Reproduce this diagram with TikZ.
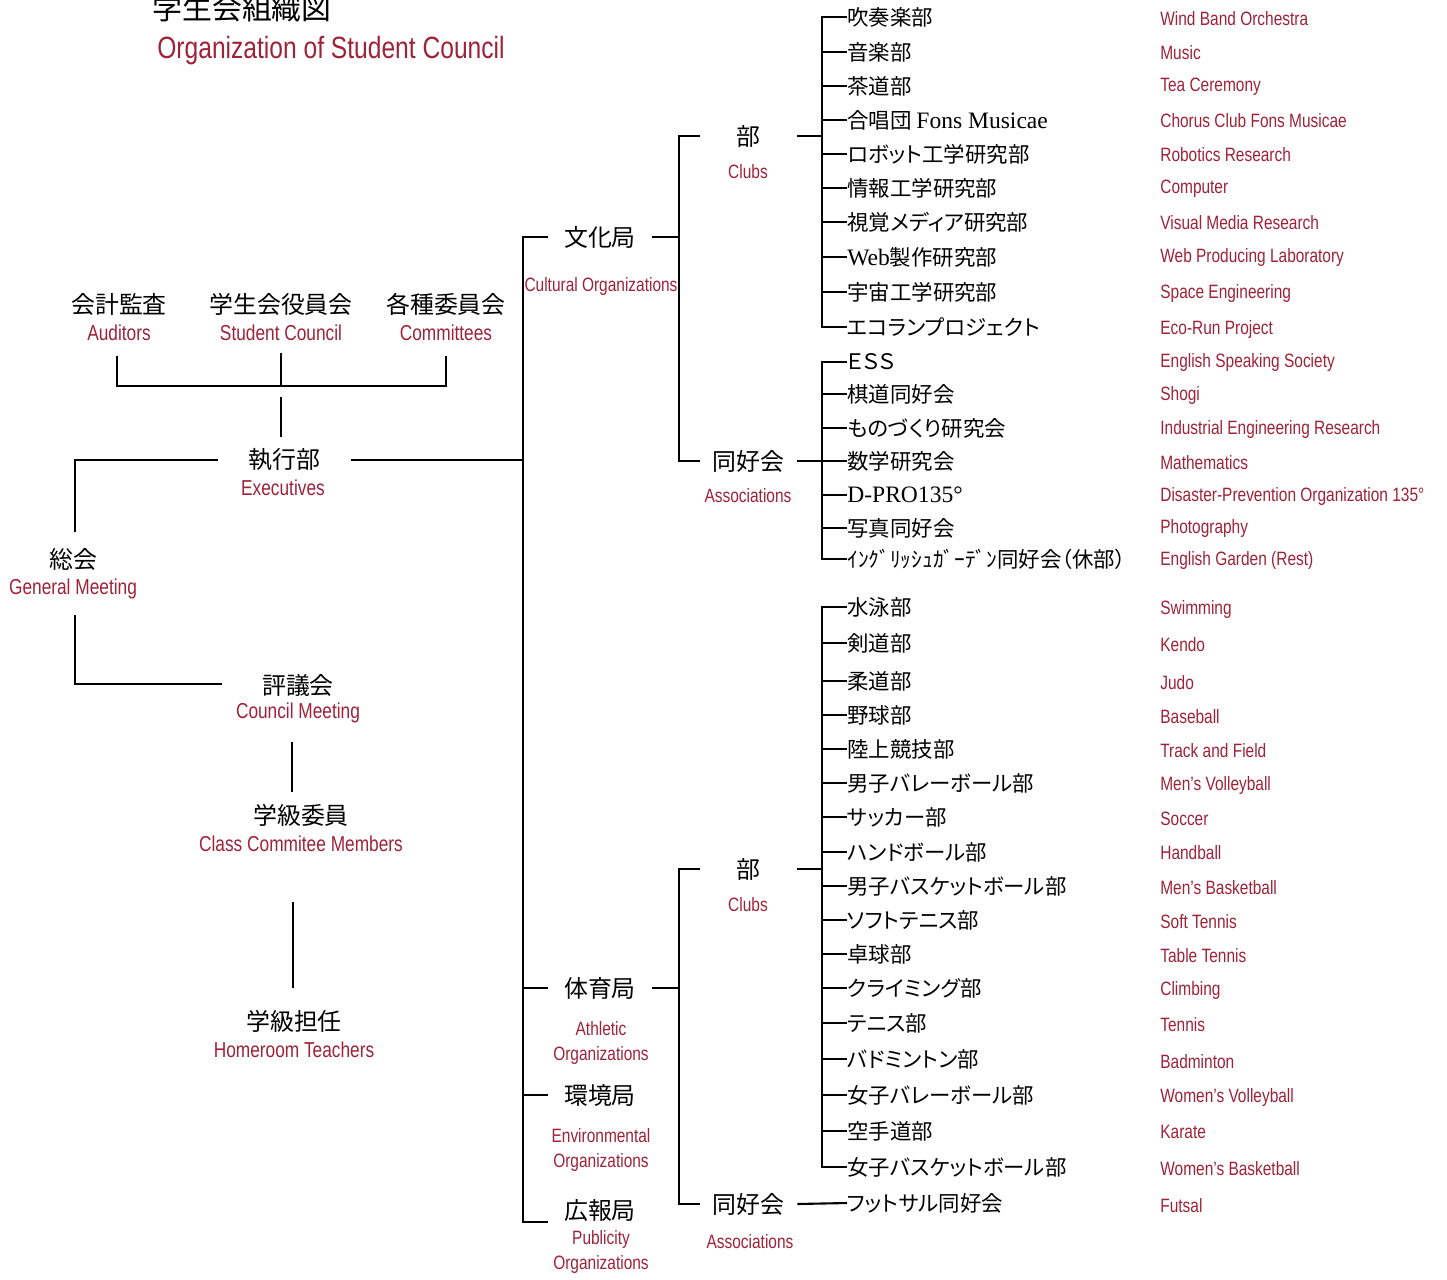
\documentclass[tikz,border=0pt]{standalone}
\usepackage{fontspec}
\newfontfamily\jpfont[RawFeature=+palt]{Noto Sans CJK JP}
\newfontfamily\latinserif{Liberation Serif}
\newfontfamily\enfont[FakeStretch=0.8]{Liberation Sans}
\definecolor{orgred}{RGB}{158,34,56}
\tikzset{
  jp/.style={font=\jpfont\fontsize{12.2}{14}\selectfont, inner sep=0pt},
  head/.style={font=\jpfont\fontsize{13.6}{16}\selectfont, inner sep=0pt},
  en/.style={font=\enfont\fontsize{11}{14.7}\selectfont, text=orgred, inner sep=0pt, align=center},
  enhead/.style={font=\enfont\fontsize{12.3}{14}\selectfont, text=orgred, inner sep=0pt},
  item/.style={jp, anchor=west},
  enitem/.style={en, anchor=west},
  link/.style={draw, line width=1.2pt},
  thinlink/.style={draw, line width=0.6pt},
}
\begin{document}
\begin{tikzpicture}[x=0.02cm, y=-0.02cm]
      \useasboundingbox (0,0) rectangle (1447,1279);
      % title
      \node[font=\jpfont\fontsize{17}{20}\selectfont, inner sep=0pt] (title) at (242,8) {学生会組織図};
      \node[font=\enfont\fontsize{17.5}{20}\selectfont, text=orgred, inner sep=0pt] (title-en) at (331,51) {Organization of Student Council};
      % left side
      \node[head] (aud) at (119,304) {会計監査};
      \node[enhead] (aud-en) at (119,333) {Auditors};
      \node[head] (sc) at (281,304) {学生会役員会};
      \node[enhead] (sc-en) at (281,333) {Student Council};
      \node[head] (com) at (446,304) {各種委員会};
      \node[enhead] (com-en) at (446,333) {Committees};
      \node[head, minimum width=2.66cm] (exec) at (284.5,460) {執行部};
      \node[enhead] (exec-en) at (283,488) {Executives};
      \node[head] (gm) at (73,559) {総会};
      \node[enhead] (gm-en) at (73,589) {General Meeting};
      \node[head] (cm) at (298,685) {評議会};
      \node[enhead] (cm-en) at (298,713) {Council Meeting};
      \node[head] (ccm) at (301,815) {学級委員};
      \node[enhead] (ccm-en) at (301,844) {Class Commitee Members};
      \node[head] (hr) at (294,1021) {学級担任};
      \node[enhead] (hr-en) at (294,1050) {Homeroom Teachers};
      % bureaus
      \node[head, minimum width=2.08cm] (cult) at (600,237) {文化局};
      \node[en] (cult-en) at (601,286) {Cultural Organizations};
      \node[head, minimum width=2.08cm] (ath) at (600,988) {体育局};
      \node[en] (ath-en) at (601,1043) {Athletic\\Organizations};
      \node[head, minimum width=2.08cm] (env) at (600,1095) {環境局};
      \node[en] (env-en) at (601,1150) {Environmental\\Organizations};
      \node[head] (pub) at (600,1210) {広報局};
      \node[en] (pub-en) at (601,1252) {Publicity\\Organizations};
      % clubs and associations
      \node[head, minimum width=1.94cm] (cclub) at (748.5,136) {部};
      \node[en] (cclub-en) at (748,172) {Clubs};
      \node[head, minimum width=1.94cm] (cassoc) at (748.5,461) {同好会};
      \node[en] (cassoc-en) at (748,496) {Associations};
      \node[head, minimum width=1.94cm] (sclub) at (748.5,869) {部};
      \node[en] (sclub-en) at (748,905) {Clubs};
      \node[head, minimum width=1.94cm] (sassoc) at (748.5,1204) {同好会};
      \node[en] (sassoc-en) at (750,1242) {Associations};
      % cultural clubs
      \node[item] (c1) at (847,17) {吹奏楽部};
      \node[item] (c2) at (847,52) {音楽部};
      \node[item] (c3) at (847,86) {茶道部};
      \node[item] (c4) at (847,120) {合唱団 {\latinserif\fontsize{13.4}{14}\selectfont Fons Musicae}};
      \node[item] (c5) at (847,154) {ロボット工学研究部};
      \node[item] (c6) at (847,188) {情報工学研究部};
      \node[item] (c7) at (847,222) {視覚メディア研究部};
      \node[item] (c8) at (847,257) {{\latinserif\fontsize{13.4}{14}\selectfont Web}製作研究部};
      \node[item] (c9) at (847,292) {宇宙工学研究部};
      \node[item] (c10) at (847,327) {エコランプロジェクト};
      \node[enitem] (c1e) at (1160,19) {Wind Band Orchestra};
      \node[enitem] (c2e) at (1160,53) {Music};
      \node[enitem] (c3e) at (1160,87) {Tea Ceremony};
      \node[enitem] (c4e) at (1160,121) {Chorus Club Fons Musicae};
      \node[enitem] (c5e) at (1160,155) {Robotics Research};
      \node[enitem] (c6e) at (1160,189) {Computer};
      \node[enitem] (c7e) at (1160,223) {Visual Media Research};
      \node[enitem] (c8e) at (1160,257) {Web Producing Laboratory};
      \node[enitem] (c9e) at (1160,293) {Space Engineering};
      \node[enitem] (c10e) at (1160,329) {Eco-Run Project};
      % cultural associations
      \node[item] (a1) at (847,362) {ＥＳＳ};
      \node[item] (a2) at (847,394) {棋道同好会};
      \node[item] (a3) at (847,428) {ものづくり研究会};
      \node[item] (a4) at (847,461) {数学研究会};
      \node[item] (a5) at (847,495) {{\latinserif\fontsize{13.4}{14}\selectfont D-PRO135°}};
      \node[item] (a6) at (847,528) {写真同好会};
      \node[item] (a7) at (847,559) {ｲﾝｸﾞﾘｯｼｭｶﾞｰﾃﾞﾝ同好会（休部）};
      \node[enitem] (a1e) at (1160,362) {English Speaking Society};
      \node[enitem] (a2e) at (1160,395) {Shogi};
      \node[enitem] (a3e) at (1160,429) {Industrial Engineering Research};
      \node[enitem] (a4e) at (1160,463) {Mathematics};
      \node[enitem] (a5e) at (1160,496) {Disaster-Prevention Organization 135°};
      \node[enitem] (a6e) at (1160,528) {Photography};
      \node[enitem] (a7e) at (1160,560) {English Garden (Rest)};
      % athletic clubs
      \node[item] (s1) at (847,607) {水泳部};
      \node[item] (s2) at (847,643) {剣道部};
      \node[item] (s3) at (847,681) {柔道部};
      \node[item] (s4) at (847,715) {野球部};
      \node[item] (s5) at (847,749) {陸上競技部};
      \node[item] (s6) at (847,783) {男子バレーボール部};
      \node[item] (s7) at (847,817) {サッカー部};
      \node[item] (s8) at (847,852) {ハンドボール部};
      \node[item] (s9) at (847,886) {男子バスケットボール部};
      \node[item] (s10) at (847,920) {ソフトテニス部};
      \node[item] (s11) at (847,954) {卓球部};
      \node[item] (s12) at (847,988) {クライミング部};
      \node[item] (s13) at (847,1023) {テニス部};
      \node[item] (s14) at (847,1059) {バドミントン部};
      \node[item] (s15) at (847,1095) {女子バレーボール部};
      \node[item] (s16) at (847,1131) {空手道部};
      \node[item] (s17) at (847,1167) {女子バスケットボール部};
      \node[item] (f1) at (847,1203) {フットサル同好会};
      \node[enitem] (s1e) at (1160,609) {Swimming};
      \node[enitem] (s2e) at (1160,645) {Kendo};
      \node[enitem] (s3e) at (1160,683) {Judo};
      \node[enitem] (s4e) at (1160,717) {Baseball};
      \node[enitem] (s5e) at (1160,751) {Track and Field};
      \node[enitem] (s6e) at (1160,785) {Men’s Volleyball};
      \node[enitem] (s7e) at (1160,819) {Soccer};
      \node[enitem] (s8e) at (1160,853) {Handball};
      \node[enitem] (s9e) at (1160,888) {Men’s Basketball};
      \node[enitem] (s10e) at (1160,922) {Soft Tennis};
      \node[enitem] (s11e) at (1160,956) {Table Tennis};
      \node[enitem] (s12e) at (1160,990) {Climbing};
      \node[enitem] (s13e) at (1160,1025) {Tennis};
      \node[enitem] (s14e) at (1160,1062) {Badminton};
      \node[enitem] (s15e) at (1160,1097) {Women’s Volleyball};
      \node[enitem] (s16e) at (1160,1132) {Karate};
      \node[enitem] (s17e) at (1160,1169) {Women’s Basketball};
      \node[enitem] (f1e) at (1160,1206) {Futsal};
      % junction points
      \coordinate (bar) at (281,386);
      \coordinate (aud-foot) at (117,356);
      \coordinate (sc-foot) at (281,353);
      \coordinate (com-foot) at (446,356);
      \coordinate (bar-low) at (281,397);
      \coordinate (exec-top) at (281,437);
      \coordinate (gm-top) at (75,532);
      \coordinate (gm-bot) at (75,615);
      \coordinate (cm-left) at (222,684);
      \coordinate (cm-low) at (292,742);
      \coordinate (ccm-top) at (292,792);
      \coordinate (ccm-low) at (293,902);
      \coordinate (hr-top) at (293,988);
      \coordinate (trunk) at (523,237);
      \coordinate (pub-tick) at (548,1222);
      \begin{scope}[-]
        \draw[link] (aud-foot) |- (bar) -| (com-foot);
        \draw[link] (sc-foot) -- (bar);
        \draw[thinlink] (bar-low) -- (exec-top);
        \draw[link] (exec.west) -| (gm-top);
        \draw[link] (gm-bot) |- (cm-left);
        \draw[thinlink] (cm-low) -- (ccm-top);
        \draw[thinlink] (ccm-low) -- (hr-top);
        \draw[link] (cult.west) -- (trunk) |- (pub-tick);
        \draw[link] (exec.east) -- (exec.east -| trunk);
        \draw[link] (ath.west) -- (ath.west -| trunk);
        \draw[link] (env.west) -- (env.west -| trunk);
        \draw[link] (cult.east) -- ++(27,0);
        \draw[link] (cclub.west) -- ++(-21,0) |- (cassoc.west);
        \draw[link] (cclub.east) -- ++(25,0);
        \draw[link] (cassoc.east) -- ++(25,0);
        \draw[link] (c1.west) -- ++(-25,0) |- (c10.west);
        \draw[link] (c2.west) -- ++(-25,0);
        \draw[link] (c3.west) -- ++(-25,0);
        \draw[link] (c4.west) -- ++(-25,0);
        \draw[link] (c5.west) -- ++(-25,0);
        \draw[link] (c6.west) -- ++(-25,0);
        \draw[link] (c7.west) -- ++(-25,0);
        \draw[link] (c8.west) -- ++(-25,0);
        \draw[link] (c9.west) -- ++(-25,0);
        \draw[link] (a1.west) -- ++(-25,0) |- (a7.west);
        \draw[link] (a2.west) -- ++(-25,0);
        \draw[link] (a3.west) -- ++(-25,0);
        \draw[link] (a4.west) -- ++(-25,0);
        \draw[link] (a5.west) -- ++(-25,0);
        \draw[link] (a6.west) -- ++(-25,0);
        \draw[link] (ath.east) -- ++(27,0);
        \draw[link] (sclub.west) -- ++(-21,0) |- (sassoc.west);
        \draw[link] (sclub.east) -- ++(25,0);
        \draw[link] (sassoc.east) -- (f1.west);
        \draw[link] (s1.west) -- ++(-25,0) |- (s17.west);
        \draw[link] (s2.west) -- ++(-25,0);
        \draw[link] (s3.west) -- ++(-25,0);
        \draw[link] (s4.west) -- ++(-25,0);
        \draw[link] (s5.west) -- ++(-25,0);
        \draw[link] (s6.west) -- ++(-25,0);
        \draw[link] (s7.west) -- ++(-25,0);
        \draw[link] (s8.west) -- ++(-25,0);
        \draw[link] (s9.west) -- ++(-25,0);
        \draw[link] (s10.west) -- ++(-25,0);
        \draw[link] (s11.west) -- ++(-25,0);
        \draw[link] (s12.west) -- ++(-25,0);
        \draw[link] (s13.west) -- ++(-25,0);
        \draw[link] (s14.west) -- ++(-25,0);
        \draw[link] (s15.west) -- ++(-25,0);
        \draw[link] (s16.west) -- ++(-25,0);
      \end{scope}
    \end{tikzpicture}
\end{document}
